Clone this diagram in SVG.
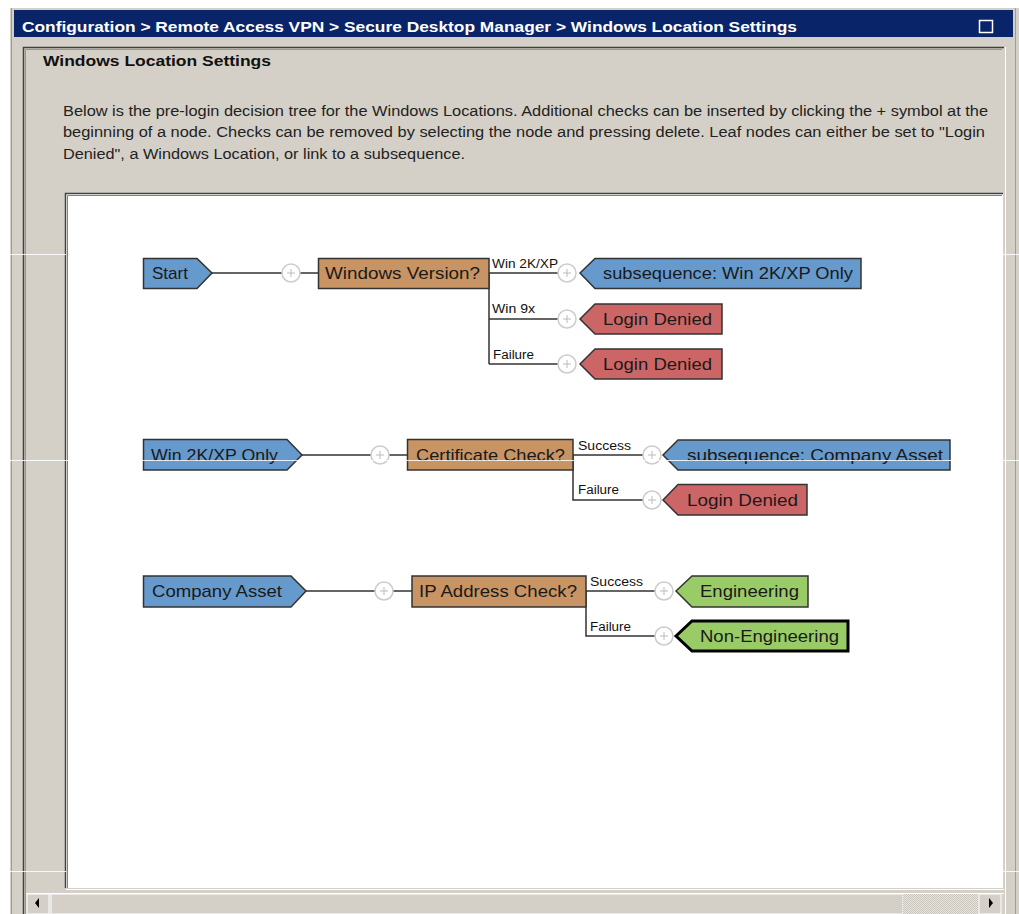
<svg xmlns="http://www.w3.org/2000/svg" width="1019" height="914" viewBox="0 0 1019 914">
<defs>
<style>
.ui{font-family:"Liberation Sans",Arial,sans-serif}
.title{font-family:"Liberation Sans",Arial,sans-serif;font-weight:bold;font-size:15px;fill:#ffffff}
.head{font-family:"Liberation Sans",Arial,sans-serif;font-weight:bold;font-size:15px;fill:#111111}
.para{font-family:"Liberation Sans",Arial,sans-serif;font-size:14px;fill:#222222}
.lbl{font-family:"Liberation Sans",Arial,sans-serif;font-size:17px;fill:#1a1a1a}
.br{font-family:"Liberation Sans",Arial,sans-serif;font-size:12px;fill:#111111}
.blue{fill:#6699cc;stroke:#333333;stroke-width:1.5}
.tan{fill:#c99463;stroke:#333333;stroke-width:1.5}
.red{fill:#cc6666;stroke:#333333;stroke-width:1.5}
.green{fill:#99cc66;stroke:#333333;stroke-width:1.5}
.sel{stroke:#000000;stroke-width:3}
.wire{fill:none;stroke:#333333;stroke-width:1.5}
.plus circle{fill:#ffffff;stroke:#cccccc;stroke-width:1.5}
.plus path{stroke:#bbbbbb;stroke-width:1}
</style>
<pattern id="dots" width="2" height="2" patternUnits="userSpaceOnUse">
<rect width="2" height="2" fill="#e8e6e0"/>
<rect width="1" height="1" fill="#c8c4bc"/>
<rect x="1" y="1" width="1" height="1" fill="#c8c4bc"/>
</pattern>
<g id="plusIcon" class="plus"><circle r="9"/><path d="M-4 0H4M0 -4V4"/></g>
</defs>

<!-- window chrome -->
<rect x="0" y="0" width="1019" height="914" fill="#ffffff"/>
<rect x="10" y="8" width="1009" height="906" fill="#d4d0c8"/>
<line x1="11.5" y1="8" x2="11.5" y2="914" stroke="#a09c94" stroke-width="1"/>
<line x1="1015.5" y1="8" x2="1015.5" y2="914" stroke="#a09c94" stroke-width="1"/>
<rect x="14" y="10" width="999" height="27" fill="#0a246a"/>
<text class="title" x="22" y="32" textLength="775" lengthAdjust="spacingAndGlyphs">Configuration &gt; Remote Access VPN &gt; Secure Desktop Manager &gt; Windows Location Settings</text>
<rect x="979.5" y="20.5" width="13" height="12" fill="none" stroke="#ffffff" stroke-width="1.5"/>

<!-- panel -->
<path d="M23.5 914V47.5H1004" fill="none" stroke="#404040" stroke-width="1.5"/>
<path d="M25.5 914V49.5H1002" fill="none" stroke="#9a968e" stroke-width="1"/>
<line x1="1005.5" y1="47" x2="1005.5" y2="914" stroke="#ffffff" stroke-width="1"/>
<text class="head" x="43" y="66" textLength="228" lengthAdjust="spacingAndGlyphs">Windows Location Settings</text>
<text class="para" x="63" y="116" textLength="925" lengthAdjust="spacingAndGlyphs">Below is the pre-login decision tree for the Windows Locations. Additional checks can be inserted by clicking the + symbol at the</text>
<text class="para" x="63" y="137" textLength="922" lengthAdjust="spacingAndGlyphs">beginning of a node. Checks can be removed by selecting the node and pressing delete. Leaf nodes can either be set to "Login</text>
<text class="para" x="63" y="159" textLength="402" lengthAdjust="spacingAndGlyphs">Denied", a Windows Location, or link to a subsequence.</text>

<!-- canvas -->
<rect x="66" y="194" width="937" height="694" fill="#ffffff"/>
<path d="M65.5 888V193.5H1003" fill="none" stroke="#404040" stroke-width="1.5"/>
<path d="M67.5 888V195.5H1002" fill="none" stroke="#808080" stroke-width="1"/>
<line x1="66" y1="889.5" x2="1004" y2="889.5" stroke="#ffffff" stroke-width="1"/>

<!-- scrollbar -->
<rect x="26" y="893" width="978" height="21" fill="#d4d0c8"/>
<line x1="26" y1="893.5" x2="1004" y2="893.5" stroke="#ffffff" stroke-width="1"/>
<rect x="27" y="894" width="22" height="20" fill="#d4d0c8" stroke="#ffffff" stroke-width="1"/>
<polygon points="39,898 35,903 39,908" fill="#000000"/>
<rect x="51" y="894" width="852" height="20" fill="#d4d0c8" stroke="#ffffff" stroke-width="1"/>
<rect x="903" y="894" width="75" height="20" fill="url(#dots)"/>
<rect x="979" y="894" width="22" height="20" fill="#d4d0c8" stroke="#ffffff" stroke-width="1"/>
<polygon points="989,898 993,903 989,908" fill="#000000"/>

<!-- connectors -->
<g id="connectors" class="wire">
<path d="M212 273H282M300 273H318"/>
<path d="M489 273H558M489 273V364M489 319H558M489 364H558"/>
<path d="M302 455H371M389 455H407"/>
<path d="M573 455H643M573 455V500H643"/>
<path d="M306 591H375M393 591H412"/>
<path d="M586 591H655M586 591V636H655"/>
</g>
<g id="plus-buttons">
<use href="#plusIcon" x="291" y="273"/>
<use href="#plusIcon" x="567" y="273"/>
<use href="#plusIcon" x="567" y="319"/>
<use href="#plusIcon" x="567" y="364"/>
<use href="#plusIcon" x="380" y="455"/>
<use href="#plusIcon" x="652" y="455"/>
<use href="#plusIcon" x="652" y="500"/>
<use href="#plusIcon" x="384" y="591"/>
<use href="#plusIcon" x="664" y="591"/>
<use href="#plusIcon" x="664" y="636"/>
</g>
<g id="branch-labels">
<text class="br" x="492" y="268" textLength="66" lengthAdjust="spacingAndGlyphs">Win 2K/XP</text>
<text class="br" x="492" y="313" textLength="43" lengthAdjust="spacingAndGlyphs">Win 9x</text>
<text class="br" x="493" y="359" textLength="41" lengthAdjust="spacingAndGlyphs">Failure</text>
<text class="br" x="578" y="450" textLength="53" lengthAdjust="spacingAndGlyphs">Success</text>
<text class="br" x="578" y="494" textLength="41" lengthAdjust="spacingAndGlyphs">Failure</text>
<text class="br" x="590" y="586" textLength="53" lengthAdjust="spacingAndGlyphs">Success</text>
<text class="br" x="590" y="631" textLength="41" lengthAdjust="spacingAndGlyphs">Failure</text>
</g>

<!-- row 1 -->
<g id="node-start">
<polygon class="blue" points="143.5,258.5 197,258.5 212,273 197,288.5 143.5,288.5"/>
<text class="lbl" x="152" y="279" textLength="36" lengthAdjust="spacingAndGlyphs">Start</text>
</g>
<g id="node-windows-version">
<rect class="tan" x="318.5" y="258.5" width="170.5" height="30"/>
<text class="lbl" x="325" y="279" textLength="155" lengthAdjust="spacingAndGlyphs">Windows Version?</text>
</g>
<g id="node-sub-win2kxp">
<polygon class="blue" points="580,273 595,258.5 861,258.5 861,288.5 595,288.5"/>
<text class="lbl" x="603" y="279" textLength="250" lengthAdjust="spacingAndGlyphs">subsequence: Win 2K/XP Only</text>
</g>
<g id="node-denied-1">
<polygon class="red" points="580,319 595,304 722,304 722,334 595,334"/>
<text class="lbl" x="603" y="325" textLength="109" lengthAdjust="spacingAndGlyphs">Login Denied</text>
</g>
<g id="node-denied-2">
<polygon class="red" points="580,364 595,349 722,349 722,379 595,379"/>
<text class="lbl" x="603" y="370" textLength="109" lengthAdjust="spacingAndGlyphs">Login Denied</text>
</g>

<!-- row 2 -->
<g id="node-win2kxp-only">
<polygon class="blue" points="143.5,439.5 287,439.5 302,455 287,470 143.5,470"/>
<text class="lbl" x="151" y="461" textLength="127" lengthAdjust="spacingAndGlyphs">Win 2K/XP Only</text>
</g>
<g id="node-certificate">
<rect class="tan" x="407.5" y="439.5" width="165.5" height="30.5"/>
<text class="lbl" x="416" y="461" textLength="149" lengthAdjust="spacingAndGlyphs">Certificate Check?</text>
</g>
<g id="node-sub-company">
<polygon class="blue" points="663,455 678,440 950,440 950,470 678,470"/>
<text class="lbl" x="687" y="461" textLength="256" lengthAdjust="spacingAndGlyphs">subsequence: Company Asset</text>
</g>
<g id="node-denied-3">
<polygon class="red" points="663,500 678,484.5 807,484.5 807,515 678,515"/>
<text class="lbl" x="687" y="506" textLength="111" lengthAdjust="spacingAndGlyphs">Login Denied</text>
</g>

<!-- row 3 -->
<g id="node-company-asset">
<polygon class="blue" points="143.5,576 291,576 306,591 291,607 143.5,607"/>
<text class="lbl" x="152" y="597" textLength="130" lengthAdjust="spacingAndGlyphs">Company Asset</text>
</g>
<g id="node-ip-check">
<rect class="tan" x="412" y="576" width="174" height="31"/>
<text class="lbl" x="419" y="597" textLength="158" lengthAdjust="spacingAndGlyphs">IP Address Check?</text>
</g>
<g id="node-engineering">
<polygon class="green" points="676,591 692,576 808,576 808,607 692,607"/>
<text class="lbl" x="700" y="597" textLength="99" lengthAdjust="spacingAndGlyphs">Engineering</text>
</g>
<g id="node-non-engineering">
<polygon class="green sel" points="676,636 692,621 848,621 848,651 692,651"/>
<text class="lbl" x="700" y="642" textLength="139" lengthAdjust="spacingAndGlyphs">Non-Engineering</text>
</g>

<!-- screenshot seam lines -->
<g stroke="#ffffff" stroke-width="1" opacity="0.85">
<line x1="0" y1="254.5" x2="66" y2="254.5"/>
<line x1="1003" y1="254.5" x2="1019" y2="254.5"/>
<line x1="0" y1="460.5" x2="1019" y2="460.5"/>
<line x1="0" y1="871.5" x2="66" y2="871.5"/>
<line x1="1003" y1="871.5" x2="1019" y2="871.5"/>
</g>
</svg>
